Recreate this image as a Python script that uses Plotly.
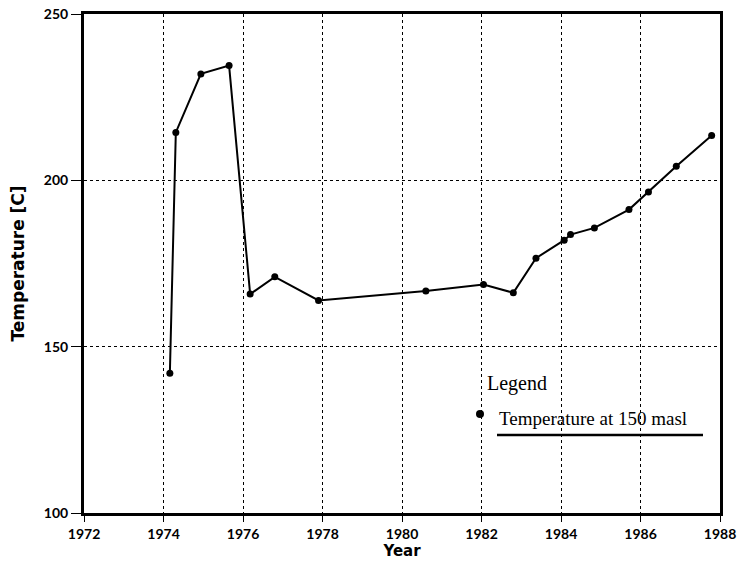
import plotly.graph_objects as go

years = [1974.16, 1974.31, 1974.94, 1975.65, 1976.18, 1976.80, 1977.90, 1980.60,
         1982.05, 1982.80, 1983.37, 1984.08, 1984.24, 1984.84, 1985.71, 1986.20,
         1986.90, 1987.79]
temps = [142.0, 214.4, 232.0, 234.5, 165.8, 171.0, 163.9, 166.7,
         168.7, 166.2, 176.6, 182.0, 183.7, 185.7, 191.2, 196.5,
         204.2, 213.5]
x_ticks = [1972, 1974, 1976, 1978, 1980, 1982, 1984, 1986, 1988]
y_ticks = [100, 150, 200, 250]
series_name = "Temperature at 150 masl"

tick_font = dict(family="Lato, DejaVu Sans, sans-serif", size=14, color="black", weight="bold")
title_family = "DejaVu Sans, sans-serif"

fig = go.Figure()
fig.add_trace(go.Scatter(
    x=years, y=temps, mode="lines+markers", name=series_name,
    line=dict(color="black", width=2),
    marker=dict(color="black", size=7, symbol="circle"),
    showlegend=False,
))

fig.update_layout(
    width=741, height=564,
    margin=dict(l=84, r=21, t=14, b=51),
    paper_bgcolor="white", plot_bgcolor="white",
    xaxis=dict(
        range=[1972, 1988], tickvals=x_ticks, ticktext=[str(v) for v in x_ticks],
        showline=True, linecolor="black", linewidth=3, mirror=True,
        ticks="outside", ticklen=6, tickwidth=1, tickcolor="black",
        showgrid=True, gridcolor="black", griddash="dot", gridwidth=1,
        zeroline=False, tickfont=tick_font, ticklabeloverflow="allow",
        title=dict(text="Year", font=dict(family=title_family, size=15, color="black", weight="bold"), standoff=2),
        automargin=False,
    ),
    yaxis=dict(
        range=[100, 250], tickvals=y_ticks, ticktext=[str(v) for v in y_ticks],
        showline=True, linecolor="black", linewidth=3, mirror=True,
        ticks="outside", ticklen=10, tickwidth=1, tickcolor="black",
        showgrid=True, gridcolor="black", griddash="dot", gridwidth=1,
        zeroline=False, tickfont=tick_font, ticklabeloverflow="allow",
        title=dict(text="Temperature [C]", font=dict(family=title_family, size=17, color="black", weight="bold"), standoff=15),
        automargin=False,
    ),
)

serif = "Liberation Serif, Times New Roman, serif"
fig.add_annotation(xref="paper", yref="paper", x=(485 - 84) / 636, y=(513 - 383) / 499, xanchor="left", yanchor="middle",
                   text="Legend", showarrow=False, font=dict(family=serif, size=20, color="black"))
fig.add_annotation(xref="paper", yref="paper", x=(497 - 84) / 636, y=(513 - 418) / 499, xanchor="left", yanchor="middle",
                   text=series_name, showarrow=False, font=dict(family=serif, size=19, color="black"))
fig.add_shape(type="circle", xref="paper", yref="paper",
              x0=(476 - 84) / 636, x1=(484 - 84) / 636, y0=(513 - 418) / 499, y1=(513 - 410) / 499,
              fillcolor="black", line=dict(color="black", width=0))
fig.add_shape(type="line", xref="paper", yref="paper",
              x0=(497 - 84) / 636, x1=(703 - 84) / 636, y0=(513 - 435) / 499, y1=(513 - 435) / 499,
              line=dict(color="black", width=2.5))

fig.write_html("out.html", config={"displayModeBar": False},
               post_script="document.body.style.margin='0';document.body.style.overflow='hidden';")
